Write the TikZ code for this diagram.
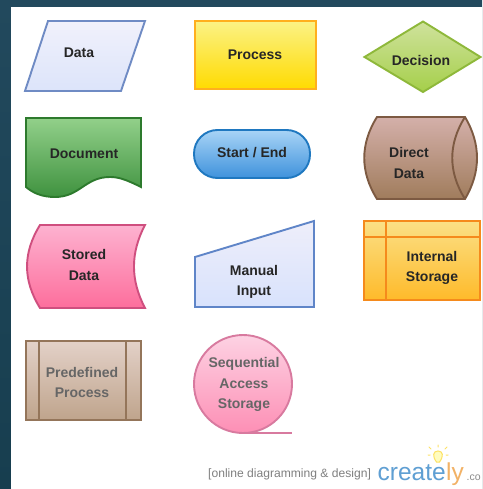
\documentclass[tikz,border=0pt]{standalone}
\usepackage{fontspec}
\setmainfont{Liberation Sans}
\definecolor{bgtop}{HTML}{22495D}
\definecolor{bgbot}{HTML}{173E4F}
\definecolor{crblue}{HTML}{5F9FD3}
\definecolor{crorange}{HTML}{F2B266}
\definecolor{dataE}{HTML}{6F8BC4}\definecolor{dataT}{HTML}{F1F1FB}\definecolor{dataB}{HTML}{DCE4FA}
\definecolor{procE}{HTML}{FFAF1E}\definecolor{procT}{HTML}{FBF286}\definecolor{procB}{HTML}{FFDB00}
\definecolor{deciE}{HTML}{8EB83A}\definecolor{deciT}{HTML}{CFE29C}\definecolor{deciB}{HTML}{A5CF4A}
\definecolor{docuE}{HTML}{2D7A2D}\definecolor{docuT}{HTML}{92D08A}\definecolor{docuB}{HTML}{3F923F}
\definecolor{starE}{HTML}{1F78C0}\definecolor{starT}{HTML}{A8D4F6}\definecolor{starB}{HTML}{3F92DC}
\definecolor{direE}{HTML}{7D5A42}\definecolor{direT}{HTML}{D4B0AA}\definecolor{direB}{HTML}{A07C5C}
\definecolor{stoE}{HTML}{CF4F7F}\definecolor{stoT}{HTML}{FDB2D0}\definecolor{stoB}{HTML}{FD6E9C}
\definecolor{manE}{HTML}{5F85C8}\definecolor{manT}{HTML}{EEEEFA}\definecolor{manB}{HTML}{D8E2FC}
\definecolor{intE}{HTML}{F58A1C}\definecolor{intT}{HTML}{FBE086}\definecolor{intB}{HTML}{FEBA2A}
\definecolor{preE}{HTML}{94755A}\definecolor{preT}{HTML}{E3D1C8}\definecolor{preB}{HTML}{BFA48C}
\definecolor{seqE}{HTML}{D87A9F}\definecolor{seqT}{HTML}{FDD2E3}\definecolor{seqB}{HTML}{FD8FB5}
\tikzset{
  x=1pt,y=-1pt,
  lab/.style={font=\bfseries\fontsize{14}{20.5}\selectfont,align=center,inner sep=0pt,text=#1},
  lab/.default={black!85},
  box/.style={draw=#1E,line width=1.9pt,top color=#1T,bottom color=#1B,line join=miter},
  rule/.style={draw=#1,line width=1.9pt},
  bulb/.style={draw=yellow!70!orange!60,line width=1pt,line cap=round}
}
\begin{document}
\begin{tikzpicture}
\useasboundingbox (0,0) rectangle (482,489);
\begin{scope}
\clip (0,0) rectangle (482,489);
\shade[top color=bgtop,bottom color=bgbot] (0,0) rectangle (482,489);
\fill[white] (11,7) rectangle (484,491);
% Data
\path[box=data] (48,21) -- (145,21) -- (121,91) -- (25,91) -- cycle;
\node[lab] (data) at (79,53) {Data};
% Process
\path[box=proc] (195,21) rectangle (316,89);
\node[lab] (process) at (255,55) {Process};
% Decision
\path[box=deci] (364.5,57) -- (423,21.5) -- (480.5,57) -- (423,92) -- cycle;
\node[lab] (decision) at (421,60) {Decision};
% Document
\path[box=docu] (26,118) -- (141,118) -- (141,187)
  .. controls (125,179) and (118,177) .. (110,177)
  .. controls (85,177) and (80,197) .. (55,197)
  .. controls (42,197) and (33,193) .. (26,187) -- cycle;
\node[lab] (document) at (84,154) {Document};
% Start / End
\path[box=star,rounded corners=23.5pt] (194,130) rectangle (310,178);
\node[lab] (startend) at (252,153) {Start / End};
% Direct Data
\path[box=dire] (377,117) -- (465,117)
  .. controls (481,144) and (481,172) .. (465,199)
  -- (377,199)
  .. controls (360,172) and (360,144) .. (377,117) -- cycle;
\draw[rule=direE] (465,117) .. controls (448,144) and (448,172) .. (465,199);
\node[lab] (direct) at (409,163) {Direct\\Data};
% Stored Data
\path[box=sto] (40,225) -- (145,225)
  .. controls (130.3,253) and (130.3,280) .. (145,308)
  -- (40,308)
  .. controls (22.7,280) and (22.7,253) .. (40,225) -- cycle;
\node[lab] (stored) at (84,265) {Stored\\Data};
% Manual Input
\path[box=man] (195,257) -- (314,221) -- (314,307) -- (195,307) -- cycle;
\node[lab] (manual) at (254,282) {Manual\\Input};
% Internal Storage
\path[box=int] (364,221) rectangle (480,300);
\draw[rule=intE] (386,221) -- (386,300) (364,237) -- (480,237);
\node[lab] (internal) at (432,268) {Internal\\Storage};
% Predefined Process
\path[box=pre] (26,341) rectangle (141,420);
\draw[rule=preE] (39,341) -- (39,420) (126,341) -- (126,420);
\node[lab=black!60] (predefined) at (82,382.5) {Predefined\\Process};
% Sequential Access Storage
\path[box=seq] (243,384) circle[radius=49];
\draw[rule=seqE] (243,433) -- (292,433);
\node[lab=black!60] (seq) at (244,384.5) {Sequential\\Access\\Storage};
% Footer
\node[font=\fontsize{12.1}{14}\selectfont,text=black!50,inner sep=0pt,anchor=west] (online) at (208,474) {[online diagramming \& design]};
\node[font=\fontsize{24.5}{26}\selectfont,text=crblue,inner sep=0pt,anchor=base west] (creat) at (377.5,480) {create};
\node[font=\fontsize{24.5}{26}\selectfont,text=crorange,inner sep=0pt,anchor=base west] (ly) at (creat.base east) {ly};
\node[font=\fontsize{10.5}{12}\selectfont,text=black!45,inner sep=0pt,anchor=base west] (com) at (466.5,480) {.co};
% Bulb
\draw[bulb,fill=yellow!25] (436.5,462) .. controls (432,456) and (433,451) .. (438,451) .. controls (443,451) and (444,456) .. (439.5,462) -- cycle;
\draw[bulb] (438,447) -- (438,445) (431,449) -- (429,447) (445,449) -- (447,447) (428,455) -- (430,455) (446,455) -- (448,455);
\end{scope}
\end{tikzpicture}
\end{document}
